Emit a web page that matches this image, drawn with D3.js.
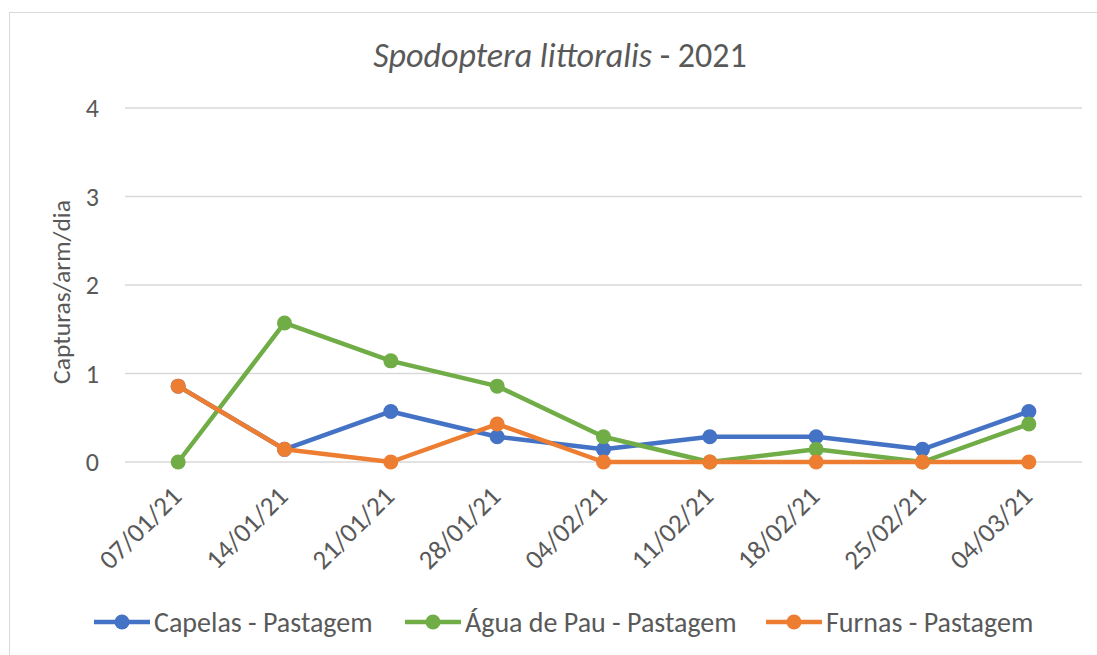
<!DOCTYPE html>
<html lang="pt">
<head>
<meta charset="UTF-8">
<title>Spodoptera littoralis - 2021</title>
<script src="https://d3js.org/d3.v7.min.js"></script>
<style>
    body { margin: 0; padding: 0; background: #fff; }
    svg { display: block; font-family: Carlito, Lato, 'Open Sans', sans-serif; }
</style>
</head>
<body>
<div id="chart"></div>
<script>
    // data
    const dates = ['07/01/21', '14/01/21', '21/01/21', '28/01/21', '04/02/21', '11/02/21', '18/02/21', '25/02/21', '04/03/21'];
    const capelas = [0.857, 0.143, 0.571, 0.286, 0.143, 0.286, 0.286, 0.143, 0.571];
    const aguaDePau = [0, 1.571, 1.143, 0.857, 0.286, 0, 0.143, 0, 0.429];
    const furnas = [0.857, 0.143, 0, 0.429, 0, 0, 0, 0, 0];
    const seriesNames = ['Capelas - Pastagem', 'Água de Pau - Pastagem', 'Furnas - Pastagem'];
    const seriesColors = ['#4472c4', '#70ad47', '#ed7d31'];
    const yTicks = [0, 1, 2, 3, 4];

    const width = 1097, height = 655;
    const plot = { left: 125, right: 1082, top: 108, bottom: 462 };

    const svg = d3.select('#chart').append('svg')
        .attr('width', width)
        .attr('height', height);

    // chart border
    svg.append('rect')
        .attr('x', 9.5).attr('y', 12.5)
        .attr('width', 1100).attr('height', 700)
        .attr('fill', '#fff')
        .attr('stroke', '#d9d9d9');

    const x = d3.scaleBand().domain(dates).range([plot.left, plot.right]);
    const y = d3.scaleLinear().domain([0, 4]).range([plot.bottom, plot.top]);

    // gridlines
    svg.append('g').selectAll('line')
        .data(yTicks)
        .join('line')
        .attr('x1', plot.left).attr('x2', plot.right)
        .attr('y1', d => y(d)).attr('y2', d => y(d))
        .attr('stroke', '#d9d9d9')
        .attr('stroke-width', 1.3);

    // y tick labels
    svg.append('g').selectAll('text')
        .data(yTicks)
        .join('text')
        .attr('x', 99)
        .attr('y', d => y(d))
        .attr('dy', '0.36em')
        .attr('text-anchor', 'end')
        .attr('fill', '#595959')
        .style('font-size', '26px')
        .text(d => d);

    // y axis title
    svg.append('text')
        .attr('transform', `translate(70, 292) rotate(-90)`)
        .attr('text-anchor', 'middle')
        .attr('fill', '#595959')
        .style('font-size', '25.5px')
        .text('Capturas/arm/dia');

    // x tick labels (rotated)
    svg.append('g').selectAll('text')
        .data(dates)
        .join('text')
        .attr('transform', d => `translate(${x(d) + x.bandwidth() / 2 + 5}, 498) rotate(-45)`)
        .attr('text-anchor', 'end')
        .attr('fill', '#595959')
        .style('font-size', '27px')
        .text(d => d);

    // title
    const title = svg.append('text')
        .attr('x', 560)
        .attr('y', 67)
        .attr('text-anchor', 'middle')
        .attr('fill', '#595959')
        .style('font-size', '34px');
    title.append('tspan').style('font-style', 'italic').text('Spodoptera littoralis');
    title.append('tspan').text(' - 2021');

    // lines
    const series = [capelas, aguaDePau, furnas];
    const line = d3.line()
        .x((d, i) => x(dates[i]) + x.bandwidth() / 2)
        .y(d => y(d));

    series.forEach((vals, s) => {
        const g = svg.append('g');
        g.append('path')
            .datum(vals)
            .attr('d', line)
            .attr('fill', 'none')
            .attr('stroke', seriesColors[s])
            .attr('stroke-width', 4.5)
            .attr('stroke-linejoin', 'round');
        g.selectAll('circle')
            .data(vals)
            .join('circle')
            .attr('cx', (d, i) => x(dates[i]) + x.bandwidth() / 2)
            .attr('cy', d => y(d))
            .attr('r', 7.5)
            .attr('fill', seriesColors[s]);
    });

    // legend
    const legendX = [94, 405, 766];
    const legend = svg.append('g');
    seriesNames.forEach((name, i) => {
        const lg = legend.append('g').attr('transform', `translate(${legendX[i]}, 622)`);
        lg.append('line')
            .attr('x1', 0).attr('x2', 56)
            .attr('stroke', seriesColors[i])
            .attr('stroke-width', 4.5);
        lg.append('circle')
            .attr('cx', 28).attr('r', 7.5)
            .attr('fill', seriesColors[i]);
        lg.append('text')
            .attr('x', 60)
            .attr('dy', '0.35em')
            .attr('fill', '#595959')
            .style('font-size', '28px')
            .text(name);
    });
</script>
</body>
</html>
